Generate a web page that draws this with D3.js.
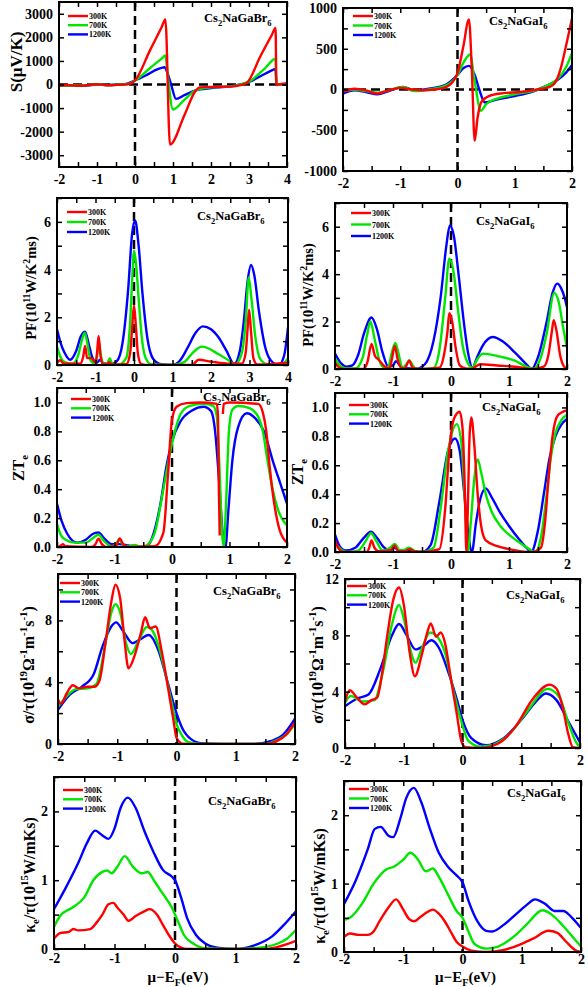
<!DOCTYPE html>
<html><head><meta charset="utf-8">
<script src="https://cdn.jsdelivr.net/npm/d3@7"></script>
<style>
body{margin:0;background:#fff}
svg{display:block}
text{font-family:"Liberation Serif","Times New Roman",serif;font-weight:bold;fill:#000}
</style>
</head><body>
<svg id="c" width="588" height="987"></svg>
<script>
// ---------------- DATA ----------------
const temps = ["300K", "700K", "1200K"];
const compounds = ["Br", "I"];

// Seebeck coefficient S (μV/K)
const s_br_300 = [[-2,-40],[-1.8,-20],[-1.5,-50],[-1.2,-20],[-1.0,10],[-0.8,-20],[-0.6,-30],[-0.4,-10],[-0.2,10],[-0.1,50],[0,170],[0.4,1470],[0.7,2430],[0.8,2760],[0.92,-2550],[1.3,-1300],[1.6,-250],[1.7,-120],[2.0,-100],[2.5,-90],[2.8,-20],[2.95,80],[3.3,1200],[3.6,2100],[3.7,2400],[3.72,0],[3.85,10],[4.0,30]];
const s_br_700 = [[-2,-40],[-1.7,-40],[-1.4,-40],[-1.0,10],[-0.7,-30],[-0.4,0],[-0.2,20],[0,170],[0.4,700],[0.7,1100],[0.8,1230],[0.86,400],[1.0,-1060],[1.3,-650],[1.6,-250],[2.0,-120],[2.5,-80],[3.0,120],[3.4,650],[3.7,1090],[3.72,0],[3.85,10],[4,30]];
const s_br_1200 = [[-2,-60],[-1.7,-40],[-1.4,-60],[-1.0,0],[-0.7,-20],[-0.4,0],[-0.2,40],[0,170],[0.3,400],[0.6,650],[0.78,735],[0.85,500],[0.95,0],[1.08,-610],[1.3,-450],[1.6,-250],[2.0,-150],[2.5,-80],[3.0,110],[3.3,350],[3.6,600],[3.7,665],[3.72,-20],[3.85,20],[4,50]];
const s_i_300 = [[-2,-30],[-1.8,10],[-1.6,-10],[-1.4,-50],[-1.2,-10],[-1.0,20],[-0.8,0],[-0.6,-10],[-0.4,0],[-0.2,30],[-0.1,80],[0,200],[0.1,520],[0.2,860],[0.25,250],[0.3,-630],[0.35,-350],[0.42,-150],[0.55,-80],[0.8,-45],[1.1,-30],[1.4,0],[1.6,30],[1.7,80],[1.8,250],[1.9,550],[2.0,870]];
const s_i_700 = [[-2,-20],[-1.8,0],[-1.6,-20],[-1.4,-40],[-1.2,-10],[-0.95,30],[-0.75,-20],[-0.5,0],[-0.2,50],[0,180],[0.12,350],[0.22,430],[0.3,100],[0.41,-260],[0.5,-180],[0.7,-110],[1.0,-60],[1.4,0],[1.6,60],[1.75,130],[1.9,280],[2.0,450]];
const s_i_1200 = [[-2,-50],[-1.8,-10],[-1.6,-30],[-1.4,-60],[-1.2,-20],[-0.95,30],[-0.75,-10],[-0.5,10],[-0.2,60],[0,180],[0.1,260],[0.2,290],[0.3,180],[0.38,0],[0.48,-160],[0.7,-120],[1.0,-80],[1.3,-30],[1.5,30],[1.75,120],[1.9,210],[2.0,300]];

// Power factor PF (10^11 W/K^2ms)
const pf_br_300 = [[-2,0.1],[-1.92,0.2],[-1.82,0.05],[-1.4,0.05],[-1.32,0.35],[-1.27,0.8],[-1.22,0.3],[-1.1,0.28],[-1.0,0.1],[-0.96,0.5],[-0.92,1.22],[-0.87,0.4],[-0.8,0.02],[-0.7,0.05],[-0.64,0.12],[-0.58,0.02],[-0.2,0.03],[-0.1,0.5],[-0.05,1.5],[0,2.5],[0.05,1.6],[0.1,0.5],[0.18,0.05],[0.3,0],[1.5,0],[1.68,0.22],[2.0,0.14],[2.5,0.05],[2.8,0.05],[2.9,0.5],[2.95,1.5],[2.99,2.32],[3.04,1.4],[3.1,0.3],[3.2,0.02],[4.0,0.1]];
const pf_br_700 = [[-2,0.76],[-1.9,0.3],[-1.8,0.12],[-1.6,0.05],[-1.45,0.4],[-1.36,1.0],[-1.28,1.35],[-1.2,0.8],[-1.13,0.2],[-1.0,0.05],[-0.95,0.5],[-0.91,0.95],[-0.86,0.4],[-0.78,0.05],[-0.7,0.05],[-0.63,0.28],[-0.56,0.05],[-0.4,0.02],[-0.2,0.3],[-0.1,1.8],[-0.04,3.8],[0,4.8],[0.05,4.3],[0.12,2.8],[0.2,1.2],[0.3,0.3],[0.45,0.02],[1.0,0],[1.3,0.12],[1.55,0.55],[1.76,0.77],[2.2,0.45],[2.5,0.15],[2.62,0.02],[2.8,0.5],[2.9,1.8],[2.98,3.67],[3.05,2.8],[3.15,1.2],[3.3,0.2],[3.5,0.02],[3.85,0.03],[4.0,0.3]];
const pf_br_1200 = [[-2,1.5],[-1.9,0.9],[-1.8,0.5],[-1.66,0.22],[-1.5,0.6],[-1.38,1.2],[-1.27,1.4],[-1.18,0.9],[-1.08,0.3],[-0.97,0.1],[-0.88,0.22],[-0.8,0.08],[-0.6,0.04],[-0.45,0.15],[-0.3,0.9],[-0.15,3.2],[-0.05,5.5],[0.03,6.06],[0.12,5.0],[0.22,3.0],[0.35,1.1],[0.5,0.25],[0.7,0.03],[0.99,0],[1.2,0.2],[1.4,0.75],[1.6,1.35],[1.79,1.62],[2.0,1.5],[2.2,1.15],[2.4,0.6],[2.6,0.05],[2.75,0.6],[2.85,1.8],[2.95,3.5],[3.04,4.19],[3.12,3.8],[3.25,2.2],[3.4,0.8],[3.55,0.2],[3.76,0],[3.9,0.4],[4.0,1.58]];
const pf_i_300 = [[-2,0.28],[-1.92,0.05],[-1.85,0],[-1.5,0],[-1.44,0.3],[-1.37,1.06],[-1.31,0.55],[-1.25,0.4],[-1.15,0.12],[-1.06,0.02],[-1.02,0.4],[-0.97,0.97],[-0.92,0.4],[-0.86,0.05],[-0.8,0.02],[-0.72,0.35],[-0.66,0.05],[-0.55,0],[-0.2,0.05],[-0.12,0.6],[-0.06,1.6],[-0.03,2.35],[0.02,2.0],[0.08,0.9],[0.15,0.15],[0.25,0.02],[0.35,0],[0.5,0.2],[0.8,0.15],[1.2,0.07],[1.4,0],[1.6,0.1],[1.68,0.6],[1.74,1.6],[1.77,2.06],[1.82,1.6],[1.88,0.6],[1.95,0.1],[2.0,0.02]];
const pf_i_700 = [[-2,0.45],[-1.9,0.12],[-1.83,0.03],[-1.65,0.02],[-1.52,0.5],[-1.45,1.4],[-1.39,2.0],[-1.32,1.3],[-1.24,0.4],[-1.15,0.05],[-1.08,0.1],[-1.02,0.7],[-0.96,1.1],[-0.9,0.6],[-0.84,0.05],[-0.77,0.2],[-0.72,0.37],[-0.66,0.15],[-0.6,0],[-0.3,0.05],[-0.2,0.8],[-0.1,3.0],[-0.03,4.65],[0.05,4.0],[0.12,2.5],[0.2,1.0],[0.3,0.2],[0.37,0.05],[0.45,0.4],[0.55,0.65],[0.8,0.55],[1.1,0.35],[1.3,0.1],[1.42,0],[1.55,0.5],[1.65,1.5],[1.78,3.21],[1.86,2.8],[1.93,1.8],[2.0,0.9]];
const pf_i_1200 = [[-2,0.65],[-1.9,0.25],[-1.8,0.1],[-1.7,0.15],[-1.6,0.6],[-1.5,1.5],[-1.37,2.17],[-1.28,1.7],[-1.18,0.7],[-1.08,0.1],[-1.0,0.15],[-0.95,0.33],[-0.88,0.15],[-0.8,0.03],[-0.6,0.01],[-0.45,0.2],[-0.3,1.2],[-0.18,3.0],[-0.08,5.2],[-0.02,6.05],[0.05,5.6],[0.13,4.0],[0.22,2.0],[0.3,0.6],[0.37,0.05],[0.45,0.5],[0.55,1.0],[0.72,1.35],[0.9,1.15],[1.1,0.7],[1.3,0.2],[1.39,0],[1.5,0.5],[1.65,2.0],[1.75,3.2],[1.83,3.6],[1.9,3.4],[1.96,3.0],[2.0,2.6]];

// Electronic figure of merit ZTe (null = gap in the curve)
const zt_br_300 = [[-2,0],[-1.95,0.005],[-1.9,0.02],[-1.85,0.005],[-1.4,0],[-1.33,0.02],[-1.28,0.058],[-1.22,0.02],[-1.15,0],[-0.97,0.01],[-0.91,0.06],[-0.85,0.02],[-0.75,0],[-0.3,0.005],[-0.15,0.1],[-0.07,0.5],[0,0.88],[0.08,0.97],[0.25,0.995],[0.5,1.0],[0.78,0.99],[0.8,0.9],[0.815,0.4],[0.83,0.08],null,[0.885,0.92],[0.9,0.99],[1.0,1.0],[1.5,0.99],[1.58,0.93],[1.64,0.8],[1.7,0.55],[1.76,0.35],[1.87,0.12],[2.0,0.03]];
const zt_br_700 = [[-2,0.16],[-1.93,0.08],[-1.85,0.05],[-1.7,0.03],[-1.5,0.03],[-1.38,0.06],[-1.28,0.085],[-1.18,0.04],[-1.05,0.005],[-0.98,0.02],[-0.92,0.05],[-0.86,0.02],[-0.78,0.005],[-0.65,0.015],[-0.55,0],[-0.45,0.01],[-0.3,0.1],[-0.15,0.4],[-0.05,0.62],[0.05,0.8],[0.15,0.92],[0.3,0.975],[0.55,0.99],[0.72,0.975],[0.78,0.9],[0.83,0.5],[0.87,0.1],[0.9,0],[0.94,0.3],[0.99,0.8],[1.05,0.95],[1.15,0.975],[1.35,0.96],[1.5,0.9],[1.58,0.8],[1.66,0.6],[1.75,0.4],[1.85,0.25],[2.0,0.15]];
const zt_br_1200 = [[-2,0.3],[-1.92,0.18],[-1.82,0.09],[-1.65,0.03],[-1.5,0.05],[-1.38,0.09],[-1.28,0.1],[-1.18,0.06],[-1.05,0.02],[-0.92,0.02],[-0.75,0.01],[-0.45,0],[-0.35,0.06],[-0.2,0.3],[-0.1,0.55],[0,0.73],[0.15,0.87],[0.35,0.945],[0.55,0.97],[0.68,0.94],[0.75,0.8],[0.82,0.45],[0.88,0.1],[0.93,0],[0.98,0.25],[1.05,0.6],[1.15,0.83],[1.3,0.925],[1.45,0.89],[1.6,0.8],[1.75,0.6],[1.9,0.42],[2.0,0.3]];
const zt_i_300 = [[-2,0.08],[-1.93,0.02],[-1.85,0],[-1.45,0],[-1.41,0.03],[-1.37,0.08],[-1.32,0.03],[-1.25,0.005],[-1.05,0.01],[-0.97,0.045],[-0.92,0.01],[-0.8,0.005],[-0.72,0.02],[-0.62,0.005],[-0.5,0],[-0.2,0.02],[-0.1,0.3],[-0.03,0.7],[0.05,0.92],[0.15,0.97],[0.2,0.85],[0.24,0.4],[0.265,0],[0.29,0.3],[0.32,0.8],[0.35,0.93],[0.4,0.75],[0.46,0.4],[0.52,0.18],[0.6,0.08],[0.8,0.04],[1.0,0.02],[1.4,0],[1.55,0.03],[1.62,0.2],[1.68,0.5],[1.75,0.8],[1.85,0.95],[2.0,0.98]];
const zt_i_700 = [[-2,0.06],[-1.9,0.02],[-1.8,0],[-1.6,0.01],[-1.48,0.07],[-1.38,0.13],[-1.28,0.07],[-1.18,0.01],[-1.05,0.03],[-0.97,0.055],[-0.88,0.01],[-0.8,0.015],[-0.72,0.03],[-0.62,0.005],[-0.5,0],[-0.3,0.03],[-0.18,0.3],[-0.05,0.7],[0.1,0.885],[0.18,0.75],[0.24,0.35],[0.29,0],[0.34,0.2],[0.4,0.5],[0.46,0.64],[0.52,0.55],[0.6,0.4],[0.7,0.28],[0.85,0.18],[1.0,0.12],[1.2,0.06],[1.35,0.02],[1.45,0],[1.55,0.1],[1.65,0.4],[1.72,0.65],[1.8,0.82],[1.9,0.91],[2.0,0.95]];
const zt_i_1200 = [[-2,0.12],[-1.92,0.04],[-1.82,0.01],[-1.65,0.03],[-1.5,0.1],[-1.38,0.14],[-1.28,0.1],[-1.15,0.03],[-1.05,0.01],[-0.97,0.03],[-0.9,0.01],[-0.7,0.005],[-0.5,0],[-0.35,0.05],[-0.2,0.35],[-0.05,0.7],[0.07,0.785],[0.15,0.7],[0.23,0.4],[0.3,0.12],[0.36,0],[0.43,0.2],[0.5,0.36],[0.6,0.44],[0.7,0.38],[0.85,0.27],[1.0,0.18],[1.15,0.1],[1.3,0.03],[1.38,0],[1.5,0.15],[1.6,0.4],[1.7,0.65],[1.8,0.8],[1.9,0.88],[2.0,0.92]];

// Electrical conductivity σ/τ (10^19 Ω^-1 m^-1 s^-1)
const sg_br_300 = [[-2,2.9],[-1.95,2.6],[-1.85,3.3],[-1.75,3.8],[-1.65,3.6],[-1.5,3.7],[-1.38,3.7],[-1.3,4.1],[-1.2,6.5],[-1.1,9.2],[-1.03,10.3],[-0.95,9.4],[-0.88,6.8],[-0.81,4.9],[-0.7,5.8],[-0.6,7.2],[-0.53,8.2],[-0.45,7.5],[-0.35,7.6],[-0.25,6.0],[-0.15,3.8],[-0.05,1.5],[0,0.4],[0.1,0.02],[0.3,0],[1.5,0],[1.7,0.2],[1.85,0.6],[2.0,1.4]];
const sg_br_700 = [[-2,2.4],[-1.8,3.3],[-1.7,3.55],[-1.5,3.6],[-1.35,3.9],[-1.2,6.5],[-1.1,8.5],[-1.03,9.05],[-0.95,8.5],[-0.85,6.5],[-0.77,5.82],[-0.65,6.6],[-0.5,7.57],[-0.4,7.3],[-0.3,6.3],[-0.2,4.8],[-0.1,3.0],[0,1.3],[0.1,0.5],[0.2,0.12],[0.4,0],[1.5,0],[1.7,0.25],[1.85,0.6],[2.0,1.3]];
const sg_br_1200 = [[-2,2.22],[-1.8,3.2],[-1.6,3.7],[-1.4,4.5],[-1.25,6.3],[-1.1,7.6],[-1.02,7.87],[-0.9,7.3],[-0.74,6.53],[-0.6,6.8],[-0.47,7.05],[-0.3,6.0],[-0.15,4.0],[0,2.0],[0.1,1.0],[0.25,0.3],[0.45,0.03],[0.8,0],[1.3,0],[1.6,0.2],[1.8,0.6],[2.0,1.64]];
const sg_i_300 = [[-2,3.3],[-1.92,4.1],[-1.8,3.6],[-1.67,3.1],[-1.55,3.4],[-1.45,3.6],[-1.38,5.0],[-1.28,8.0],[-1.18,10.5],[-1.08,11.4],[-1.0,10.2],[-0.9,6.8],[-0.81,5.1],[-0.7,6.5],[-0.6,8.2],[-0.54,8.85],[-0.45,7.9],[-0.37,8.2],[-0.3,7.5],[-0.2,5.0],[-0.1,2.5],[-0.02,0.5],[0.05,0.05],[0.3,0],[0.6,0.3],[0.9,1.5],[1.2,3.5],[1.48,4.5],[1.6,4.2],[1.7,3.0],[1.8,1.0],[1.88,0.05],[2.0,0]];
const sg_i_700 = [[-2,3.2],[-1.9,3.7],[-1.7,3.3],[-1.5,3.4],[-1.35,5.5],[-1.2,8.8],[-1.08,10.15],[-1.0,9.2],[-0.9,7.2],[-0.8,6.06],[-0.7,7.0],[-0.55,8.2],[-0.45,8.0],[-0.3,6.8],[-0.15,4.0],[0,1.6],[0.1,0.5],[0.3,0.1],[0.5,0.2],[0.8,1.0],[1.1,2.6],[1.45,4.2],[1.65,3.6],[1.8,1.8],[1.95,0.3],[2.0,0.1]];
const sg_i_1200 = [[-2,2.97],[-1.8,3.5],[-1.6,3.8],[-1.4,5.6],[-1.2,8.0],[-1.08,8.8],[-0.95,8.0],[-0.8,7.0],[-0.65,7.3],[-0.53,7.65],[-0.4,7.1],[-0.25,5.5],[-0.1,3.5],[0,2.0],[0.15,0.7],[0.4,0.2],[0.7,0.7],[1.0,2.0],[1.25,3.3],[1.42,3.87],[1.6,3.4],[1.8,1.9],[2.0,0.4]];

// Electronic thermal conductivity κe/τ (10^15 W/mKs)
const ke_br_300 = [[-2,0.15],[-1.9,0.23],[-1.75,0.25],[-1.68,0.29],[-1.6,0.27],[-1.4,0.29],[-1.3,0.38],[-1.2,0.5],[-1.1,0.65],[-1.02,0.67],[-0.95,0.6],[-0.85,0.5],[-0.77,0.41],[-0.65,0.48],[-0.5,0.55],[-0.42,0.58],[-0.3,0.5],[-0.2,0.35],[-0.1,0.2],[0,0.08],[0.1,0.02],[0.2,0],[1.5,0],[1.7,0.03],[1.85,0.07],[2.0,0.12]];
const ke_br_700 = [[-2,0.32],[-1.9,0.48],[-1.7,0.6],[-1.5,0.75],[-1.35,1.0],[-1.2,1.12],[-1.12,1.14],[-1.05,1.1],[-0.95,1.2],[-0.83,1.35],[-0.7,1.2],[-0.55,1.1],[-0.45,1.12],[-0.35,1.0],[-0.2,0.8],[-0.05,0.6],[0.05,0.4],[0.15,0.2],[0.3,0.08],[0.5,0.01],[1.0,0],[1.4,0.02],[1.7,0.08],[1.85,0.15],[2.0,0.28]];
const ke_br_1200 = [[-2,0.58],[-1.8,0.9],[-1.6,1.25],[-1.45,1.55],[-1.32,1.72],[-1.2,1.65],[-1.1,1.6],[-1.0,1.75],[-0.9,2.05],[-0.78,2.2],[-0.65,2.05],[-0.5,1.7],[-0.35,1.4],[-0.2,1.15],[-0.05,1.05],[0,1.0],[0.1,0.75],[0.2,0.45],[0.35,0.2],[0.5,0.08],[0.7,0.02],[1.0,0],[1.3,0.05],[1.6,0.18],[1.8,0.35],[2.0,0.55]];
const ke_i_300 = [[-2,0.22],[-1.9,0.27],[-1.75,0.25],[-1.6,0.25],[-1.5,0.3],[-1.4,0.45],[-1.25,0.65],[-1.12,0.77],[-1.0,0.62],[-0.9,0.48],[-0.82,0.45],[-0.7,0.52],[-0.6,0.58],[-0.5,0.62],[-0.4,0.56],[-0.3,0.45],[-0.2,0.3],[-0.1,0.15],[0,0.08],[0.15,0.02],[0.4,0],[0.7,0.03],[1.0,0.12],[1.2,0.2],[1.45,0.31],[1.6,0.28],[1.75,0.15],[1.9,0.03],[2.0,0]];
const ke_i_700 = [[-2,0.47],[-1.9,0.5],[-1.7,0.7],[-1.5,1.0],[-1.3,1.2],[-1.15,1.25],[-1.0,1.35],[-0.88,1.45],[-0.75,1.35],[-0.62,1.18],[-0.5,1.22],[-0.4,1.1],[-0.25,0.85],[-0.1,0.6],[0,0.5],[0.1,0.3],[0.2,0.12],[0.4,0.05],[0.6,0.08],[0.9,0.25],[1.1,0.42],[1.35,0.61],[1.5,0.55],[1.7,0.38],[1.85,0.23],[2.0,0.08]];
const ke_i_1200 = [[-2,0.7],[-1.8,1.05],[-1.6,1.5],[-1.48,1.8],[-1.38,1.83],[-1.25,1.7],[-1.17,1.68],[-1.05,1.95],[-0.95,2.25],[-0.82,2.4],[-0.7,2.2],[-0.55,1.8],[-0.4,1.45],[-0.25,1.25],[-0.1,1.12],[0,1.02],[0.1,0.75],[0.25,0.45],[0.4,0.31],[0.5,0.3],[0.7,0.4],[0.9,0.55],[1.1,0.7],[1.22,0.77],[1.4,0.7],[1.55,0.6],[1.7,0.6],[1.85,0.5],[2.0,0.35]];

// tick values and labels
const xTicksWide = [-2,-1,0,1,2,3,4];
const xTicksNarrow = [-2,-1,0,1,2];
const yTicksS_Br = [-3000,-2000,-1000,0,1000,2000,3000];
const yTicksS_I = [-1000,-500,0,500,1000];
const yTicksPF = [0,2,4,6];
const yTicksZT = [0,0.2,0.4,0.6,0.8,1.0];
const yTicksSg_Br = [0,4,8];
const yTicksSg_I = [0,4,8,12];
const yTicksKe = [0,1,2];

// ---------------- STYLE / LAYOUT ----------------
const colors = ["#ff0000", "#00e600", "#0000ff"];
const svg = d3.select("#c");

const intF = d => String(d);
const oneF = d => d.toFixed(1);

const ylabS = [["S(μV/K)", "n"]];
const ylabPF = [["PF(10","n"],["11","sup"],["W/K","n"],["2","sup"],["ms)","n"]];
const ylabZT = [["ZT","n"],["e","sub"]];
const ylabSg = [["σ/τ(10","n"],["19","sup"],["Ω","n"],["-1","sup"],["m","n"],["-1","sup"],["s","n"],["-1","sup"],[")","n"]];
const ylabKe = [["κ","n"],["e","sub"],["/τ(10","n"],["15","sup"],["W/mKs)","n"]];

const panels = [
  {f:[59,2,287,167], xd:[-2,4], yd:[-3500,3500], xt:xTicksWide, xm:0.5, yt:yTicksS_Br, ym:1000, fmt:intF, data:[s_br_300,s_br_700,s_br_1200], hz:true, comp:"Br", tt:[204,22], lg:[68,16,9.2], yl:ylabS, ylp:[22,62], ylfs:17},
  {f:[343,8,572,171], xd:[-2,2], yd:[-1000,1000], xt:xTicksNarrow, xm:0.5, yt:yTicksS_I, ym:250, fmt:intF, data:[s_i_300,s_i_700,s_i_1200], hz:true, comp:"I", tt:[489,25], lg:[353,16,9.5], yl:null},
  {f:[57,198,288,365], xd:[-2,4], yd:[0,7], xt:xTicksWide, xm:0.5, yt:yTicksPF, ym:1, fmt:intF, data:[pf_br_300,pf_br_700,pf_br_1200], comp:"Br", tt:[197,220], lg:[67,212,10], yl:ylabPF, ylp:[36,288], ylfs:14.5},
  {f:[335,203,567,369], xd:[-2,2], yd:[0,7], xt:xTicksNarrow, xm:0.5, yt:yTicksPF, ym:1, fmt:intF, data:[pf_i_300,pf_i_700,pf_i_1200], comp:"I", tt:[476,225], lg:[351,213,11.5], yl:ylabPF, ylp:[313,295], ylfs:14.5},
  {f:[57,388,287,547], xd:[-2,2], yd:[0,1.1], xt:xTicksNarrow, xm:0.5, yt:yTicksZT, ym:0.2, fmt:oneF, data:[zt_br_300,zt_br_700,zt_br_1200], comp:"Br", tt:[203,401], lg:[71,399,9.3], yl:ylabZT, ylp:[24,468], ylfs:16},
  {f:[335,393,567,552], xd:[-2,2], yd:[0,1.1], xt:xTicksNarrow, xm:0.5, yt:yTicksZT, ym:0.2, fmt:oneF, data:[zt_i_300,zt_i_700,zt_i_1200], comp:"I", tt:[482,411], lg:[349,405,9.3], yl:ylabZT, ylp:[303,472], ylfs:16},
  {f:[58,574,295,744], xd:[-2,2], yd:[0,11], xt:xTicksNarrow, xm:0.5, yt:yTicksSg_Br, ym:2, fmt:intF, data:[sg_br_300,sg_br_700,sg_br_1200], comp:"Br", tt:[213,595], lg:[60,583,9.3], yl:ylabSg, ylp:[34,665], ylfs:16},
  {f:[345,579,580,748], xd:[-2,2], yd:[0,12], xt:xTicksNarrow, xm:0.5, yt:yTicksSg_I, ym:2, fmt:intF, data:[sg_i_300,sg_i_700,sg_i_1200], comp:"I", tt:[506,599], lg:[347,586,9.3], yl:ylabSg, ylp:[323,665], ylfs:16},
  {f:[54,777,296,949], xd:[-2,2], yd:[0,2.5], xt:xTicksNarrow, xm:0.5, yt:yTicksKe, ym:0.5, fmt:intF, data:[ke_br_300,ke_br_700,ke_br_1200], comp:"Br", tt:[208,805], lg:[63,790,9.3], yl:ylabKe, ylp:[35,875], ylfs:16, xl:true, xpad:4},
  {f:[344,781,581,952], xd:[-2,2], yd:[0,2.5], xt:xTicksNarrow, xm:0.5, yt:yTicksKe, ym:0.5, fmt:intF, data:[ke_i_300,ke_i_700,ke_i_1200], comp:"I", tt:[507,797], lg:[349,789,9.5], yl:ylabKe, ylp:[325,886], ylfs:16, xl:true, xpad:2}
];

function rich(t, parts, fs) {
  let cur = 0;
  parts.forEach(([s, k]) => {
    const off = k === "sup" ? -0.42 * fs : k === "sub" ? 0.28 * fs : 0;
    t.append("tspan").attr("dy", off - cur).attr("font-size", k === "n" ? fs : fs * 0.68).text(s);
    cur = off;
  });
}

function range(a, b, s) { const r = []; for (let v = a; v <= b + 1e-9; v += s) r.push(+v.toFixed(6)); return r; }

panels.forEach((p, i) => {
  const [x0, y0, x1, y1] = p.f;
  const w = x1 - x0, h = y1 - y0;
  const x = d3.scaleLinear().domain(p.xd).range([0, w]);
  const y = d3.scaleLinear().domain(p.yd).range([h, 0]);
  const g = svg.append("g").attr("transform", `translate(${x0},${y0})`);

  g.append("clipPath").attr("id", "cp" + i).append("rect").attr("width", w).attr("height", h);

  // curves
  const line = d3.line().defined(d => d !== null).x(d => x(d[0])).y(d => y(d[1])).curve(d3.curveMonotoneX);
  const cg = g.append("g").attr("clip-path", `url(#cp${i})`);
  // dashed reference lines
  cg.append("line").attr("x1", x(0)).attr("x2", x(0)).attr("y1", 0).attr("y2", h)
    .attr("stroke", "#000").attr("stroke-width", 2.5).attr("stroke-dasharray", "9,5");
  if (p.hz) cg.append("line").attr("x1", 0).attr("x2", w).attr("y1", y(0)).attr("y2", y(0))
    .attr("stroke", "#000").attr("stroke-width", 2.5).attr("stroke-dasharray", "9,5");
  [2, 1, 0].forEach(k => {
    cg.append("path").datum(p.data[k]).attr("d", line).attr("fill", "none")
      .attr("stroke", colors[k]).attr("stroke-width", 2.4).attr("stroke-linejoin", "round");
  });

  // axes (inward ticks on all four sides)
  const xAll = range(p.xd[0], p.xd[1], p.xm);
  const yAll = range(p.yd[0] < 0 ? Math.ceil(p.yd[0] / p.ym) * p.ym : p.yd[0], p.yd[1], p.ym);
  const styleAx = a => { a.select(".domain").remove(); a.selectAll("line").attr("stroke", "#000").attr("stroke-width", 1.5); a.selectAll("text").attr("font-size", 14).attr("font-family", null); };
  g.append("g").attr("transform", `translate(0,${h})`).call(d3.axisBottom(x).tickValues(xAll).tickSize(-5).tickPadding(p.xpad || 7).tickFormat(d => p.xt.includes(d) ? intF(d) : "")).call(styleAx);
  g.append("g").call(d3.axisTop(x).tickValues(xAll).tickSize(-5).tickFormat("")).call(styleAx);
  g.append("g").call(d3.axisLeft(y).tickValues(yAll).tickSize(-5).tickPadding(6).tickFormat(d => p.yt.some(t => Math.abs(t - d) < 1e-9) ? p.fmt(d) : "")).call(styleAx);
  g.append("g").attr("transform", `translate(${w},0)`).call(d3.axisRight(y).tickValues(yAll).tickSize(-5).tickFormat("")).call(styleAx);

  g.append("rect").attr("width", w).attr("height", h).attr("fill", "none").attr("stroke", "#000").attr("stroke-width", 2);

  // legend
  const [lx, ly, ldy] = p.lg;
  temps.forEach((t, k) => {
    const yy = ly + k * ldy - y0;
    g.append("line").attr("x1", lx - x0).attr("x2", lx - x0 + 20).attr("y1", yy).attr("y2", yy)
      .attr("stroke", colors[k]).attr("stroke-width", 2.4);
    g.append("text").attr("x", lx - x0 + 21).attr("y", yy + 3).attr("font-size", 8).text(t);
  });

  // compound title
  const tt = svg.append("text").attr("x", p.tt[0]).attr("y", p.tt[1]);
  const parts = p.comp === "Br"
    ? [["Cs","n"],["2","sub"],["NaGaBr","n"],["6","sub"]]
    : [["Cs","n"],["2","sub"],["NaGaI","n"],["6","sub"]];
  rich(tt, parts, 12.5);

  // y label
  if (p.yl) {
    const yt = svg.append("text").attr("text-anchor", "middle")
      .attr("transform", `translate(${p.ylp[0]},${p.ylp[1]}) rotate(-90)`);
    rich(yt, p.yl, p.ylfs);
  }
  // x label
  if (p.xl) {
    const xt = svg.append("text").attr("text-anchor", "middle").attr("x", x0 + w / 2 + 3).attr("y", 982);
    rich(xt, [["μ−E","n"],["F","sub"],["(eV)","n"]], 15);
  }
});
</script>
</body></html>
